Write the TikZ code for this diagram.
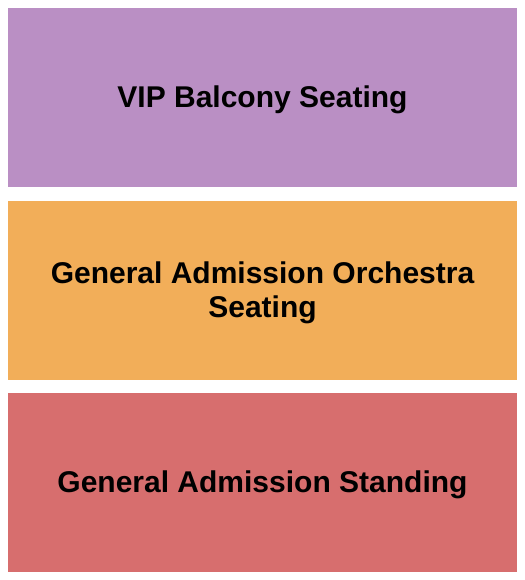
\documentclass[tikz,border=0pt]{standalone}
\usepackage{fontspec}
\setmainfont{Liberation Sans}
\definecolor{balcony}{RGB}{186,143,196}
\definecolor{orchestra}{RGB}{242,174,89}
\definecolor{standing}{RGB}{215,110,110}
\tikzset{
  section/.style={minimum width=509bp, minimum height=179bp, inner sep=0pt},
  sectionname/.style={align=center, inner sep=0pt, yshift=-2.5bp,
    font=\fontsize{30bp}{34bp}\selectfont\bfseries}
}
\begin{document}
\begin{tikzpicture}[x=1bp,y=1bp]
  \useasboundingbox (0,0) rectangle (525,-580);
% Top
% VIP balcony
  \node[section, fill=balcony] (vip) at (262.5,-97.5) {};
  \node[sectionname] (vip-name) at (vip.center) {VIP Balcony Seating};

% Middle
% Orchestra seating
  \node[section, fill=orchestra] (orchestra) at (262.5,-290.5) {};
  \node[sectionname] (orchestra-name) at (orchestra.center) {General Admission Orchestra\\Seating};

% Bottom
% Standing floor
  \node[section, fill=standing] (standing) at (262.5,-482.5) {};
  \node[sectionname] (standing-name) at (standing.center) {General Admission Standing};
\end{tikzpicture}
\end{document}
